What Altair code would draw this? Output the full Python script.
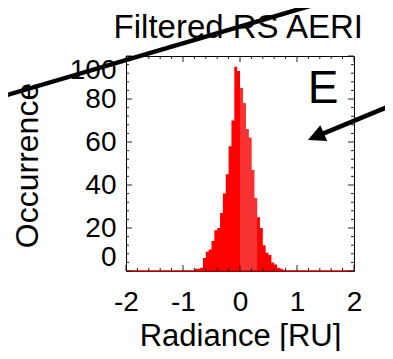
import altair as alt
import pandas as pd

# Histogram (bin starts, counts)
BIN_WIDTH = 0.05
bin_start = [-0.80, -0.75, -0.70, -0.65, -0.60, -0.55, -0.50, -0.45, -0.40, -0.35,
             -0.30, -0.25, -0.20, -0.15, -0.10, -0.05, 0.00, 0.05, 0.10, 0.15,
             0.20, 0.25, 0.30, 0.35, 0.40, 0.45, 0.50, 0.55, 0.60, 0.65,
             0.70, 0.75]
counts = [1, 1, 1.5, 6, 9, 10, 14, 19, 20, 27,
          36, 45, 58, 70, 95, 93, 85, 78, 66, 62,
          47, 34, 25, 20, 12, 8.5, 7.5, 4, 3, 1.5,
          1, 0.5]
# slightly lighter-shaded part of the histogram
band = [0.0, 0.3]

# Axis ticks
x_major = [-2, -1, 0, 1, 2]
x_minor = [-1.8, -1.6, -1.4, -1.2, -0.8, -0.6, -0.4, -0.2,
           0.2, 0.4, 0.6, 0.8, 1.2, 1.4, 1.6, 1.8]
y_major = [0, 20, 40, 60, 80, 100]
y_minor = [4, 8, 12, 16, 24, 28, 32, 36, 44, 48, 52, 56,
           64, 68, 72, 76, 84, 88, 92, 96]

# Texts and annotations (data coordinates)
title_text = ["Filtered RS AERI"]
title_x = [-0.03]
title_y = [108.4]
label_text = ["E"]
label_x = [1.19]
label_y = [78.1]
ann_line = ["a", "a", "b", "b"]
ann_x = [-4.21, 1.58, 2.70, 1.33]
ann_y = [80.9, 126.0, 77.5, 62.5]
arrow_x = [1.33]
arrow_y = [62.5]

W, H = 228, 215
FONT = "Liberation Sans"
XT = "Radiance [RU]"
YT = "Occurrence"

# step outline: bin starts plus closing edge
hist = pd.DataFrame({"x": bin_start + [bin_start[-1] + BIN_WIDTH], "y": counts + [0]})
sel = hist[(hist["x"] >= band[0]) & (hist["x"] < band[1])]
band_df = pd.concat([sel, pd.DataFrame({"x": [band[1]], "y": [0]})], ignore_index=True)

xs = alt.Scale(domain=[-2, 2], nice=False, zero=False)
ys = alt.Scale(domain=[0, 100], nice=False, zero=False)

def X(**kw):
    return alt.X("x:Q", scale=xs, title=XT, **kw)

def Y(**kw):
    return alt.Y("y:Q", scale=ys, title=YT, **kw)

area = alt.Chart(hist).mark_area(interpolate="step-after", color="#ff0000").encode(
    x=X(axis=alt.Axis(values=x_major, ticks=False, domain=False, grid=False,
                      labelFontSize=28, labelPadding=17, labelFlush=False, labelColor="black",
                      labelExpr="datum.value < 0 ? '-' + abs(datum.value) : '' + datum.value",
                      titleFontSize=31, titleFontWeight="normal", titleColor="black",
                      titleY=74, titleBaseline="alphabetic")),
    y=Y(axis=alt.Axis(values=y_major, ticks=False, domain=False, grid=False,
                      labelFontSize=28, labelPadding=10, labelFlush=True, labelColor="black",
                      titleFontSize=32, titleFontWeight="normal", titleColor="black",
                      titleX=-89, titleY=109, titleAngle=270, titleAlign="center",
                      titleBaseline="alphabetic")),
    y2=alt.datum(0),
)

band_area = alt.Chart(band_df).mark_area(interpolate="step-after", color="#f63232").encode(
    x=X(), y=Y(), y2=alt.datum(0))

base_df = pd.DataFrame({"x": [x_major[0]], "x2": [x_major[-1]], "y": [y_major[0]]})
baseline = alt.Chart(base_df).mark_rule(color="#d00000", strokeWidth=1.5).encode(
    x=X(), x2="x2:Q", y=Y())

def xticks(vals, length):
    df = pd.DataFrame({"x": vals})
    bottom = alt.Chart(df).mark_rule(color="#222", strokeWidth=1).encode(
        x=X(), y=alt.value(H), y2=alt.value(H - length))
    top = alt.Chart(df).mark_rule(color="#222", strokeWidth=1).encode(
        x=X(), y=alt.value(0), y2=alt.value(length))
    return [bottom, top]

def yticks(vals, length):
    df = pd.DataFrame({"y": vals})
    left = alt.Chart(df).mark_rule(color="#222", strokeWidth=1).encode(
        y=Y(), x=alt.value(0), x2=alt.value(length))
    right = alt.Chart(df).mark_rule(color="#222", strokeWidth=1).encode(
        y=Y(), x=alt.value(W), x2=alt.value(W - length))
    return [left, right]

ticks = xticks(x_major, 6) + xticks(x_minor, 3) + yticks(y_major, 6) + yticks(y_minor, 3)

lab_df = pd.DataFrame({"t": label_text, "x": label_x, "y": label_y})
letter = alt.Chart(lab_df).mark_text(fontSize=46, align="left", baseline="alphabetic",
                                     color="black", font=FONT).encode(
    x=X(), y=Y(), text="t:N")

ttl_df = pd.DataFrame({"t": title_text, "x": title_x, "y": title_y})
ttl = alt.Chart(ttl_df).mark_text(fontSize=33, align="center", baseline="alphabetic",
                                  color="black", font=FONT, clip=False).encode(
    x=X(), y=Y(), text="t:N")

ann_df = pd.DataFrame({"line": ann_line, "x": ann_x, "y": ann_y,
                       "o": list(range(len(ann_x)))})
ann = alt.Chart(ann_df).mark_line(color="black", strokeWidth=4.5, clip=False,
                                  strokeCap="butt").encode(
    x=X(), y=Y(), detail="line:N", order="o:Q")

head_df = pd.DataFrame({"x": arrow_x, "y": arrow_y})
head = alt.Chart(head_df).mark_point(shape="M-1,0L1,-1L1,1Z", filled=True, size=300,
                                     angle=336.5, color="black", opacity=1, clip=False).encode(
    x=X(), y=Y())

chart = alt.layer(area, band_area, baseline, *ticks, letter, ttl, ann, head).properties(
    width=W, height=H,
    autosize=alt.AutoSizeParams(type="none"),
    padding={"left": 118, "top": 48, "right": 31, "bottom": 80},
).configure(font=FONT).configure_view(stroke="black", strokeWidth=1).configure_axis(
    labelFont=FONT, titleFont=FONT)

chart.save("out.html", embed_options={"renderer": "svg", "actions": False})
